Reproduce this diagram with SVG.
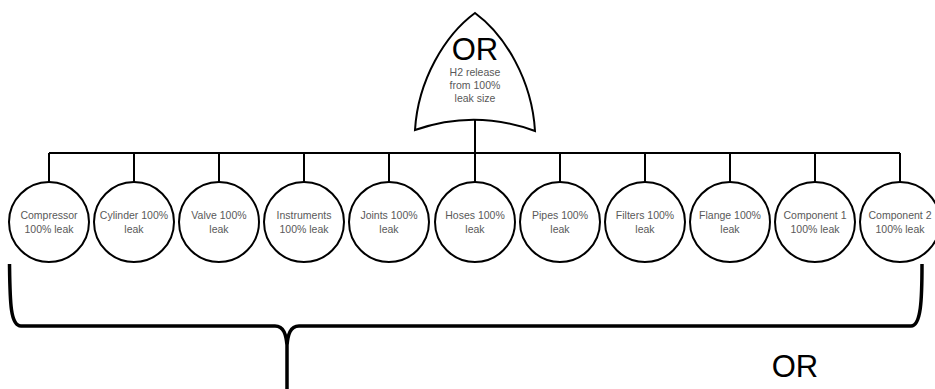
<svg xmlns="http://www.w3.org/2000/svg" width="935" height="389" viewBox="0 0 935 389">
<style>
.n{fill:#fff;stroke:#000;stroke-width:2}
.t{font-family:"Liberation Sans",Arial,sans-serif;font-size:10.5px;fill:#595959;text-anchor:middle}
.big{font-family:"Liberation Sans",Arial,sans-serif;font-size:31px;fill:#000;text-anchor:middle}
.c{fill:none;stroke:#000;stroke-width:2}
.br{fill:none;stroke:#000;stroke-width:3.5;stroke-linejoin:round}
</style>
<rect width="935" height="389" fill="#fff"/>
<g id="connectors">
<path class="c" d="M475,120V153M49,153H900"/>
<path class="c" d="M49,153V182M134,153V182M219,153V182M304,153V182M389,153V182M475,153V182M560,153V182M645,153V182M730,153V182M815,153V182M900,153V182"/>
</g>
<g id="gate">
<path class="n" d="M415,130 C418,80 445,35 475,13 C505,35 532,80 535,131 Q475,109 415,130 Z"/>
<text class="big" x="475" y="60" font-size="30">OR</text>
<text class="t" x="475" y="76" font-size="9.5">H2 release</text>
<text class="t" x="475" y="89" font-size="9.5">from 100%</text>
<text class="t" x="475" y="102" font-size="9.5">leak size</text>
</g>
<g id="n1"><circle class="n" cx="49" cy="222" r="40"/><text class="t" x="49" y="219">Compressor</text><text class="t" x="49" y="233">100% leak</text></g>
<g id="n2"><circle class="n" cx="134" cy="222" r="40"/><text class="t" x="134" y="219">Cylinder 100%</text><text class="t" x="134" y="233">leak</text></g>
<g id="n3"><circle class="n" cx="219" cy="222" r="40"/><text class="t" x="219" y="219">Valve 100%</text><text class="t" x="219" y="233">leak</text></g>
<g id="n4"><circle class="n" cx="304" cy="222" r="40"/><text class="t" x="304" y="219">Instruments</text><text class="t" x="304" y="233">100% leak</text></g>
<g id="n5"><circle class="n" cx="389" cy="222" r="40"/><text class="t" x="389" y="219">Joints 100%</text><text class="t" x="389" y="233">leak</text></g>
<g id="n6"><circle class="n" cx="475" cy="222" r="40"/><text class="t" x="475" y="219">Hoses 100%</text><text class="t" x="475" y="233">leak</text></g>
<g id="n7"><circle class="n" cx="560" cy="222" r="40"/><text class="t" x="560" y="219">Pipes 100%</text><text class="t" x="560" y="233">leak</text></g>
<g id="n8"><circle class="n" cx="645" cy="222" r="40"/><text class="t" x="645" y="219">Filters 100%</text><text class="t" x="645" y="233">leak</text></g>
<g id="n9"><circle class="n" cx="730" cy="222" r="40"/><text class="t" x="730" y="219">Flange 100%</text><text class="t" x="730" y="233">leak</text></g>
<g id="n10"><circle class="n" cx="815" cy="222" r="40"/><text class="t" x="815" y="219">Component 1</text><text class="t" x="815" y="233">100% leak</text></g>
<g id="n11"><circle class="n" cx="900" cy="222" r="40"/><text class="t" x="900" y="219">Component 2</text><text class="t" x="900" y="233">100% leak</text></g>
<g id="brace">
<path class="br" d="M9.5,264 C10,300 10,326 21,326 H275 C284,326 286,335 287,345 V389 M287,345 C288,335 290,326 299,326 H911 C921,326 922,300 922,264"/>
<text class="big" x="795" y="377">OR</text>
</g>
</svg>
